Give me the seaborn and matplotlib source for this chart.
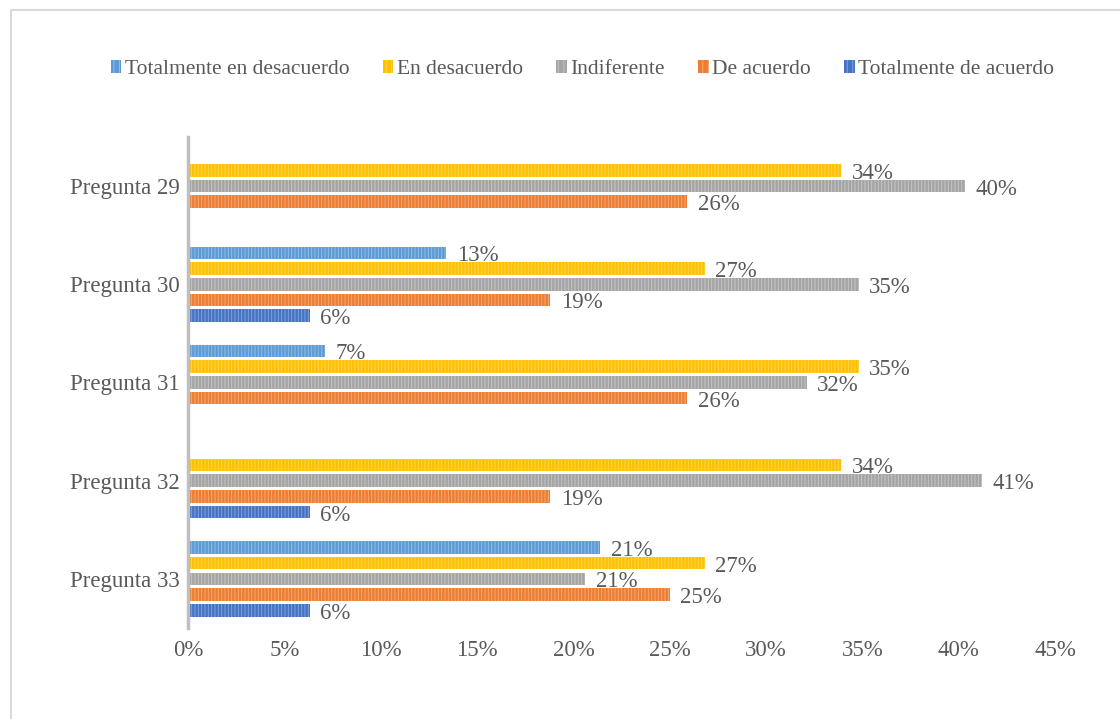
import numpy as np
import pandas as pd
import matplotlib
matplotlib.use('Agg')
import matplotlib.pyplot as plt
from matplotlib.lines import Line2D
from matplotlib.patches import Patch
import seaborn as sns

# datos (porcentaje, 0 = sin barra)
preguntas = ['Pregunta 29', 'Pregunta 30', 'Pregunta 31', 'Pregunta 32', 'Pregunta 33']
respuestas = ['Totalmente en desacuerdo', 'En desacuerdo', 'Indiferente',
              'De acuerdo', 'Totalmente de acuerdo']
tot_desacuerdo = [0, 13.4, 7.1, 0, 21.4]
en_desacuerdo = [33.9, 26.8, 34.8, 33.9, 26.8]
indiferente = [40.3, 34.8, 32.1, 41.2, 20.6]
de_acuerdo = [25.9, 18.8, 25.9, 18.8, 25.0]
tot_acuerdo = [0, 6.3, 0, 6.3, 6.3]
colores = ['#5B9BD5', '#FFC000', '#A5A5A5', '#ED7D31', '#4472C4']

series = [tot_desacuerdo, en_desacuerdo, indiferente, de_acuerdo, tot_acuerdo]
filas = []
for resp, vals in zip(respuestas, series):
    for preg, v in zip(preguntas, vals):
        filas.append({'pregunta': preg, 'respuesta': resp, 'valor': v})
df = pd.DataFrame(filas)

sns.set_style('white')
plt.rcParams['font.family'] = ['Liberation Serif', 'DejaVu Serif']
plt.rcParams['hatch.linewidth'] = 0.7
gris_texto = '#595959'
fs = 16.5

fig = plt.figure(figsize=(11.2, 7.19), dpi=100)
ax = fig.add_axes([0.168, 0.1266, 0.7741, 0.6829])

sns.barplot(data=df, y='pregunta', x='valor', hue='respuesta', order=preguntas,
            hue_order=respuestas, palette=colores, orient='h', width=0.8, gap=0.2,
            saturation=1, ax=ax, legend=False)

# rayado vertical claro sobre cada barra + etiquetas de datos
for patch in ax.patches:
    patch.set_hatch('|||||')
    patch.set_edgecolor((1, 1, 1, 0.35))
    patch.set_linewidth(0)
    w = patch.get_width()
    if w > 0:
        yc = patch.get_y() + patch.get_height() / 2
        ax.text(w + 0.55, yc + 0.03, '{:.0f}%'.format(w), ha='left', va='center',
                fontsize=fs, color=gris_texto)

ax.set_xlim(0, 45)
ax.set_xticks(np.arange(0, 46, 5))
ax.set_xticklabels(['{}%'.format(v) for v in range(0, 46, 5)])
ax.set_xlabel('')
ax.set_ylabel('')
ax.tick_params(axis='both', length=0, labelsize=fs, labelcolor=gris_texto)
ax.tick_params(axis='x', pad=9)
ax.tick_params(axis='y', pad=6)
for s in ['top', 'right', 'bottom']:
    ax.spines[s].set_visible(False)
ax.spines['left'].set_color('#BFBFBF')
ax.spines['left'].set_linewidth(2.5)
ax.grid(False)

# leyenda
handles = [Patch(facecolor=c, edgecolor=(1, 1, 1, 0.35), hatch='|||', linewidth=0)
           for c in colores]
fig.legend(handles, respuestas, loc='center', bbox_to_anchor=(0.52, 0.903), ncol=5,
           frameon=False, fontsize=15.5, labelcolor=gris_texto, handlelength=0.5,
           handleheight=0.5, handletextpad=0.15, columnspacing=1.55)

# borde del area del grafico
fig.add_artist(Line2D([11 / 1120, 1], [1 - 10 / 719, 1 - 10 / 719], color='#D9D9D9', lw=1.5))
fig.add_artist(Line2D([11 / 1120, 11 / 1120], [0, 1 - 10 / 719], color='#D9D9D9', lw=1.5))

fig.savefig('out.png', dpi=100)
